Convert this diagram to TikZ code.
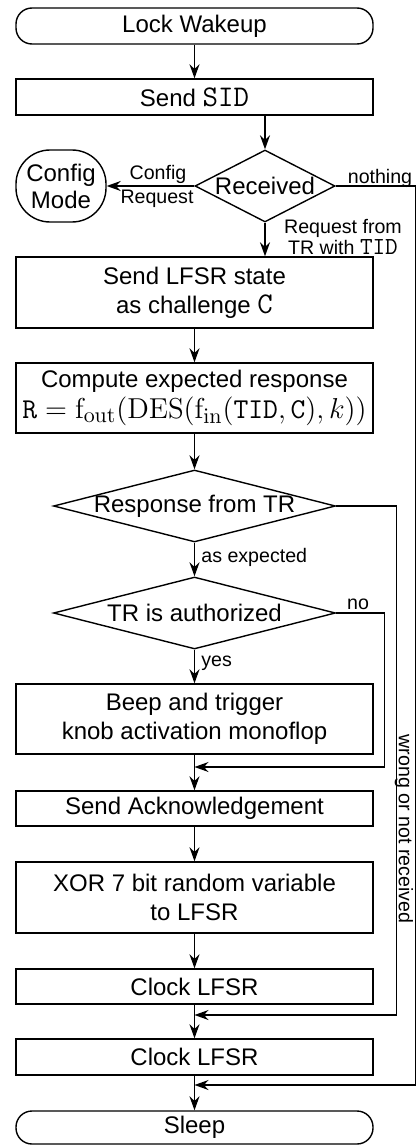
\documentclass[tikz,border=0pt]{standalone}
\usepackage[no-math]{fontspec}
\setmainfont{Liberation Sans}
\setmonofont{Latin Modern Mono}[Scale=1.25]
\usetikzlibrary{shapes.geometric,arrows.meta}
\begin{document}
\begin{tikzpicture}[x=0.5pt,y=-0.5pt,
  mainfont/.style={font=\fontsize{12}{14.4}\selectfont},
  box/.style={draw, line width=0.7pt, minimum width=178.5pt, inner sep=0pt, align=center, mainfont},
  term/.style={box, rounded corners=8pt},
  dec/.style={draw, diamond, inner sep=0pt, line width=0.7pt, mainfont},
  arr/.style={-{Stealth[length=7pt,width=5pt,inset=2.3pt]}, line width=0.7pt},
  ln/.style={line width=0.7pt},
  lab/.style={font=\fontsize{9.8}{10.5}\selectfont, inner sep=0pt, align=center}]
\useasboundingbox (0,0) rectangle (417,1145);

\node[term, minimum height=18pt] (lock) at (194.5,26) {Lock Wakeup};
\node[box, minimum height=18pt] (sid) at (194.5,97) {Send \texttt{SID}};
\node[dec, minimum width=70pt, minimum height=36pt] (recv) at (265,186) {\makebox[0pt]{Received}};
\node[draw, line width=0.7pt, rounded corners=17pt, minimum width=45pt, minimum height=36pt, inner sep=0pt, align=center, font=\fontsize{12}{13.5}\selectfont] (cfg) at (61,186) {Config\\Mode};
\node[box, minimum height=35.5pt] (lfsr) at (194.5,292.5) {Send LFSR state\\as challenge \texttt{C}};
\node[box, minimum height=35pt, font=\fontsize{12}{15.5}\selectfont] (comp) at (194.5,398) {Compute expected response\\{\fontsize{15}{15}\selectfont$\mathtt{R}=\mathrm{f}_{\mathrm{out}}(\mathrm{DES}(\mathrm{f}_{\mathrm{in}}(\mathtt{TID},\mathtt{C}),k))$}};
\node[dec, minimum width=141pt, minimum height=36pt] (resp) at (194.5,506) {\makebox[0pt]{Response from TR}};
\node[dec, minimum width=141pt, minimum height=36pt] (auth) at (194.5,613) {\makebox[0pt]{TR is authorized}};
\node[box, minimum height=35pt] (beep) at (194.5,719) {Beep and trigger\\knob activation monoflop};
\node[box, minimum height=17.5pt] (ack) at (194.5,808.5) {Send Acknowledgement};
\node[box, minimum height=35.5pt] (xor) at (194.5,897.5) {XOR 7 bit random variable\\to LFSR};
\node[box, minimum height=17.5pt] (clk1) at (194.5,986.5) {Clock LFSR};
\node[box, minimum height=18pt] (clk2) at (194.5,1057) {Clock LFSR};
\node[term, minimum height=16.5pt] (sleep) at (194.5,1127.5) {Sleep};

\coordinate (j1) at (194.5,767);
\coordinate (j2) at (194.5,1015);
\coordinate (j3) at (194.5,1085);

\draw[arr] (lock) -- (sid);
\draw[arr] (sid.south -| recv.north) -- (recv.north);
\draw[arr] (recv.west) -- (cfg.east);
\draw[arr] (recv.south) -- (recv.south |- lfsr.north);
\draw[arr] (lfsr) -- (comp);
\draw[arr] (comp) -- (resp);
\draw[arr] (resp) -- (auth);
\draw[arr] (auth) -- (beep);
\draw[ln] (beep) -- (j1);
\draw[arr] (j1) -- (ack);
\draw[arr] (auth.east) -- ++(48,0) |- (j1);
\draw[arr] (ack) -- (xor);
\draw[arr] (xor) -- (clk1);
\draw[ln] (clk1) -- (j2);
\draw[arr] (j2) -- (clk2);
\draw[arr] (resp.east) -- ++(60,0) |- (j2);
\draw[ln] (clk2) -- (j3);
\draw[arr] (j3) -- (sleep);
\draw[arr] (recv.east) -- ++(80,0) |- (j3);

\node[lab] (lcfg) at (158,174) {Config};
\node[lab] (lreq) at (157,199) {Request};
\node[lab, anchor=base] (lnot) at (380,184) {nothing};
\node[lab] (ltid) at (343,237) {Request from\\TR with \texttt{TID}};
\node[lab, anchor=west] (lexp) at (201,557) {as expected};
\node[lab, anchor=west] (lyes) at (201,663) {yes};
\node[lab, anchor=base] (lno) at (358,609) {no};
\node[lab, rotate=-90] (lwrong) at (404,829) {wrong or not received};
\end{tikzpicture}
\end{document}
